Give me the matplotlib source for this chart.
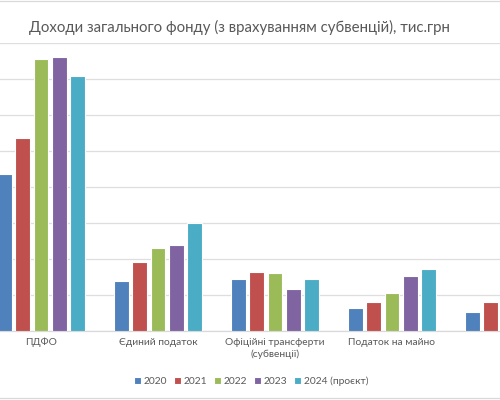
import numpy as np
import matplotlib.pyplot as plt
from matplotlib.lines import Line2D

categories = ["ПДФО", "Єдиний податок", "Офіційні трансферти\n(субвенції)",
              "Податок на майно", ""]
years = ["2020", "2021", "2022", "2023", "2024 (проєкт)"]
colors = ["#4F81BD", "#C0504D", "#9BBB59", "#8064A2", "#4BACC6"]

# values, тис.грн
v2020 = [43600, 13900, 14500, 6400, 5300]
v2021 = [53700, 19100, 16400, 8100, 8100]
v2022 = [75600, 23100, 16100, 10600, 10800]
v2023 = [76000, 23900, 11600, 15300, 14000]
v2024 = [70800, 30000, 14500, 17200, 16500]
series = [v2020, v2021, v2022, v2023, v2024]

plt.rcParams['font.family'] = ['Lato', 'DejaVu Sans']

fig = plt.figure(figsize=(5, 4), dpi=100)
# the plot area is wider than the picture: the left axis and the last group are cut off
ax = fig.add_axes([-17.5 / 500, 69 / 400, 585 / 500, 288 / 400])

x = np.arange(len(categories))
step = 0.154
for i, vals in enumerate(series):
    ax.bar(x + (i - 2) * step, vals, width=0.128, color=colors[i],
           edgecolor="white", linewidth=0.8, label=years[i], zorder=3)

ax.set_xlim(-0.5, 4.5)
ax.set_ylim(0, 80000)
ax.set_yticks(np.arange(0, 80001, 10000))
ax.yaxis.grid(True, color="#DEDEDE", linewidth=0.9, zorder=0)
ax.set_yticklabels([])
ax.tick_params(axis="y", length=0)
ax.tick_params(axis="x", length=0, pad=5, labelsize=7.4, labelcolor="#595959")
ax.set_xticks(x)
ax.set_xticklabels(categories, linespacing=1.35)
for s in ["top", "right", "left"]:
    ax.spines[s].set_visible(False)
ax.spines["bottom"].set_color("#D9D9D9")
ax.spines["bottom"].set_linewidth(0.9)

fig.text(0.478, 0.932, "Доходи загального фонду (з врахуванням субвенцій), тис.грн",
         ha="center", va="center", fontsize=10.8, color="#595959")

fig.legend(loc="center", bbox_to_anchor=(0.502, 0.0475), ncol=5, frameon=False,
           fontsize=7.4, labelcolor="#595959", handlelength=0.7, handleheight=0.7,
           handletextpad=0.3, columnspacing=0.6)

# chart frame lines at top and bottom
fig.add_artist(Line2D([0, 1], [0.998, 0.998], color="#D9D9D9", linewidth=0.9))
fig.add_artist(Line2D([0, 1], [0.005, 0.005], color="#D9D9D9", linewidth=0.9))

fig.savefig("out.png", dpi=100)
